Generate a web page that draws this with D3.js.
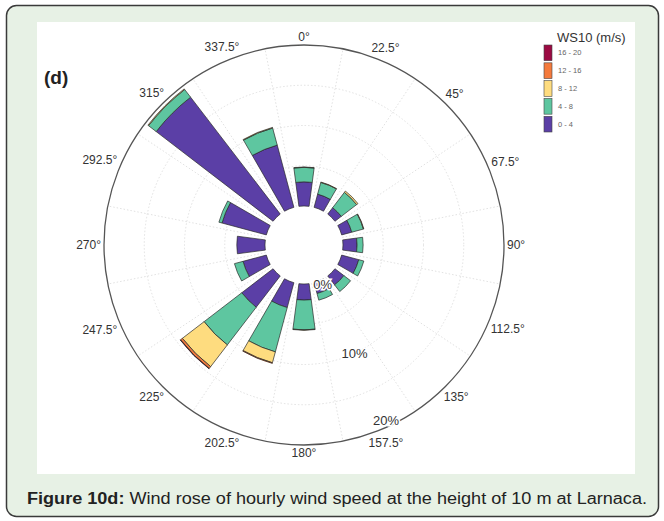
<!DOCTYPE html>
<html>
<head>
<meta charset="utf-8">
<script src="https://cdn.jsdelivr.net/npm/d3@7"></script>
<style>
  body { margin: 0; background: #fff; }
  svg { display: block; font-family: "Liberation Sans", Arial, sans-serif; }
</style>
</head>
<body>
<svg id="chart" width="664" height="521"></svg>
<script>
// wind directions (degrees, clockwise from north)
const directions = [0, 22.5, 45, 67.5, 90, 112.5, 135, 157.5, 180, 202.5, 225, 247.5, 270, 292.5, 315, 337.5];
const dirLabels = ["0°", "22.5°", "45°", "67.5°", "90°", "112.5°", "135°", "157.5°", "180°", "202.5°", "225°", "247.5°", "270°", "292.5°", "315°", "337.5°"];

// speed bins (m/s)
const bins = ["0 - 4", "4 - 8", "8 - 12", "12 - 16", "16 - 20"];
const binColors = ["#5b3fa6", "#5ec6a0", "#fedc7f", "#f47a3c", "#9b0a42"];

// frequency (%) per direction for each speed bin
const ws0_4   = [3.0, 1.7, 1.0, 1.3, 1.75, 2.2, 1.4, 1.4, 2.0, 3.2, 4.9, 3.0, 3.5, 5.7, 18.3, 8.0];
const ws4_8   = [1.8, 1.5, 2.4, 1.5, 0.75, 0.65, 1.05, 0.85, 3.7, 5.7, 5.9, 1.1, 0.0, 0.4, 1.2, 2.2];
const ws8_12  = [0.05, 0.05, 0.2, 0.05, 0, 0, 0, 0, 0.05, 1.4, 3.4, 0, 0, 0, 0.1, 0.08];
const ws12_16 = [0, 0, 0, 0, 0, 0, 0, 0, 0, 0.08, 0.3, 0, 0, 0, 0, 0];
const ws16_20 = [0, 0, 0, 0, 0, 0, 0, 0, 0, 0, 0.04, 0, 0, 0, 0, 0];

const radialTicks = [0, 10, 20];
const gridTicks = [5, 10, 15];

const caption = "Wind rose of hourly wind speed at the height of 10 m at Larnaca.";

const svg = d3.select("#chart");

// panel
svg.append("rect")
    .attr("x", 6.5).attr("y", 5.5)
    .attr("width", 652).attr("height", 511)
    .attr("rx", 10)
    .attr("fill", "#e7f1e5")
    .attr("stroke", "#3a3a3a")
    .attr("stroke-width", 1.5);

svg.append("rect")
    .attr("x", 37).attr("y", 22)
    .attr("width", 598).attr("height", 452)
    .attr("fill", "#fff");

const cx = 304, cy = 245;
const r = d3.scaleLinear().domain([0, 20]).range([39, 200]);
const rad = d => d * Math.PI / 180;

const g = svg.append("g").attr("transform", `translate(${cx},${cy})`);

// grid
g.selectAll(".grid-circle")
    .data(gridTicks)
    .enter().append("circle")
    .attr("class", "grid-circle")
    .attr("r", d => r(d))
    .attr("fill", "none")
    .attr("stroke", "#d9d9d9")
    .attr("stroke-width", 0.8)
    .attr("stroke-dasharray", "1.5,2");

g.selectAll(".spoke")
    .data(directions)
    .enter().append("line")
    .attr("class", "spoke")
    .attr("x1", d => r(0) * Math.sin(rad(d + 11.25)))
    .attr("y1", d => -r(0) * Math.cos(rad(d + 11.25)))
    .attr("x2", d => r(20) * Math.sin(rad(d + 11.25)))
    .attr("y2", d => -r(20) * Math.cos(rad(d + 11.25)))
    .attr("stroke", "#d9d9d9")
    .attr("stroke-width", 0.8)
    .attr("stroke-dasharray", "1.5,2");

// stacked bars
const table = directions.map((d, i) => ({
    dir: d,
    "0 - 4": ws0_4[i],
    "4 - 8": ws4_8[i],
    "8 - 12": ws8_12[i],
    "12 - 16": ws12_16[i],
    "16 - 20": ws16_20[i]
}));

const stack = d3.stack().keys(bins)(table);
const color = d3.scaleOrdinal().domain(bins).range(binColors);
const halfWidth = 7.5;

const arc = d3.arc()
    .innerRadius(d => r(d[0]))
    .outerRadius(d => r(d[1]))
    .startAngle(d => rad(d.data.dir - halfWidth))
    .endAngle(d => rad(d.data.dir + halfWidth));

g.selectAll(".layer")
    .data(stack)
    .enter().append("g")
    .attr("class", "layer")
    .attr("fill", d => color(d.key))
    .selectAll("path")
    .data(d => d.filter(s => s[1] - s[0] > 0))
    .enter().append("path")
    .attr("d", arc)
    .attr("stroke", "#2a2a2a")
    .attr("stroke-width", 0.7);

// outer circle
g.append("circle")
    .attr("r", r(20))
    .attr("fill", "none")
    .attr("stroke", "#555")
    .attr("stroke-width", 1.3);

// direction labels
g.selectAll(".dir-label")
    .data(directions)
    .enter().append("text")
    .attr("class", "dir-label")
    .text((d, i) => dirLabels[i])
    .attr("font-size", 12)
    .attr("fill", "#333")
    .attr("text-anchor", "middle")
    .attr("dominant-baseline", "central")
    .each(function(d) {
        const w = this.getComputedTextLength();
        const s = Math.abs(Math.sin(rad(d))), c = Math.abs(Math.cos(rad(d)));
        const off = r(20) + 3 + s * w / 2 + c * 5;
        d3.select(this)
            .attr("x", off * Math.sin(rad(d)))
            .attr("y", -off * Math.cos(rad(d)));
    });

// radial labels
const labAngle = 155;
g.selectAll(".r-label")
    .data(radialTicks)
    .enter().append("text")
    .attr("class", "r-label")
    .text(d => d + "%")
    .attr("x", d => (r(d) + (d === 0 ? 5 : d === 20 ? -6 : 0)) * Math.sin(rad(labAngle)))
    .attr("y", d => -(r(d) + (d === 0 ? 5 : d === 20 ? -6 : 0)) * Math.cos(rad(labAngle)))
    .attr("font-size", 13)
    .attr("fill", "#333")
    .attr("text-anchor", "middle")
    .attr("dominant-baseline", "central")
    .attr("stroke", "#fff")
    .attr("stroke-width", 3)
    .attr("paint-order", "stroke");

// panel tag
svg.append("text")
    .attr("x", 44).attr("y", 84)
    .attr("font-size", 19)
    .attr("font-weight", "bold")
    .attr("fill", "#222")
    .text("(d)");

// legend
const legend = svg.append("g").attr("transform", "translate(544,45)");
legend.append("text")
    .attr("x", 13).attr("y", -3)
    .attr("font-size", 13)
    .attr("fill", "#333")
    .text("WS10 (m/s)");

const legendBins = bins.slice().reverse();
const ly = d3.scaleBand().domain(legendBins).range([0, 87]).paddingInner(0.12);

legend.selectAll(".key")
    .data(legendBins)
    .enter().append("rect")
    .attr("class", "key")
    .attr("x", 0)
    .attr("y", d => ly(d))
    .attr("width", 8)
    .attr("height", ly.bandwidth())
    .attr("fill", d => color(d))
    .attr("stroke", "#444")
    .attr("stroke-width", 0.6);

legend.selectAll(".key-label")
    .data(legendBins)
    .enter().append("text")
    .attr("class", "key-label")
    .attr("x", 14)
    .attr("y", d => ly(d) + ly.bandwidth() / 2)
    .attr("dominant-baseline", "central")
    .attr("font-size", 7.5)
    .attr("fill", "#666")
    .text(d => d);

// caption
const cap = svg.append("text")
    .attr("x", 27).attr("y", 504)
    .attr("font-size", 16)
    .attr("fill", "#222")
    .attr("textLength", 620)
    .attr("lengthAdjust", "spacingAndGlyphs");
cap.append("tspan").attr("font-weight", "bold").text("Figure 10d:");
cap.append("tspan").text(" " + caption);
</script>
</body>
</html>
